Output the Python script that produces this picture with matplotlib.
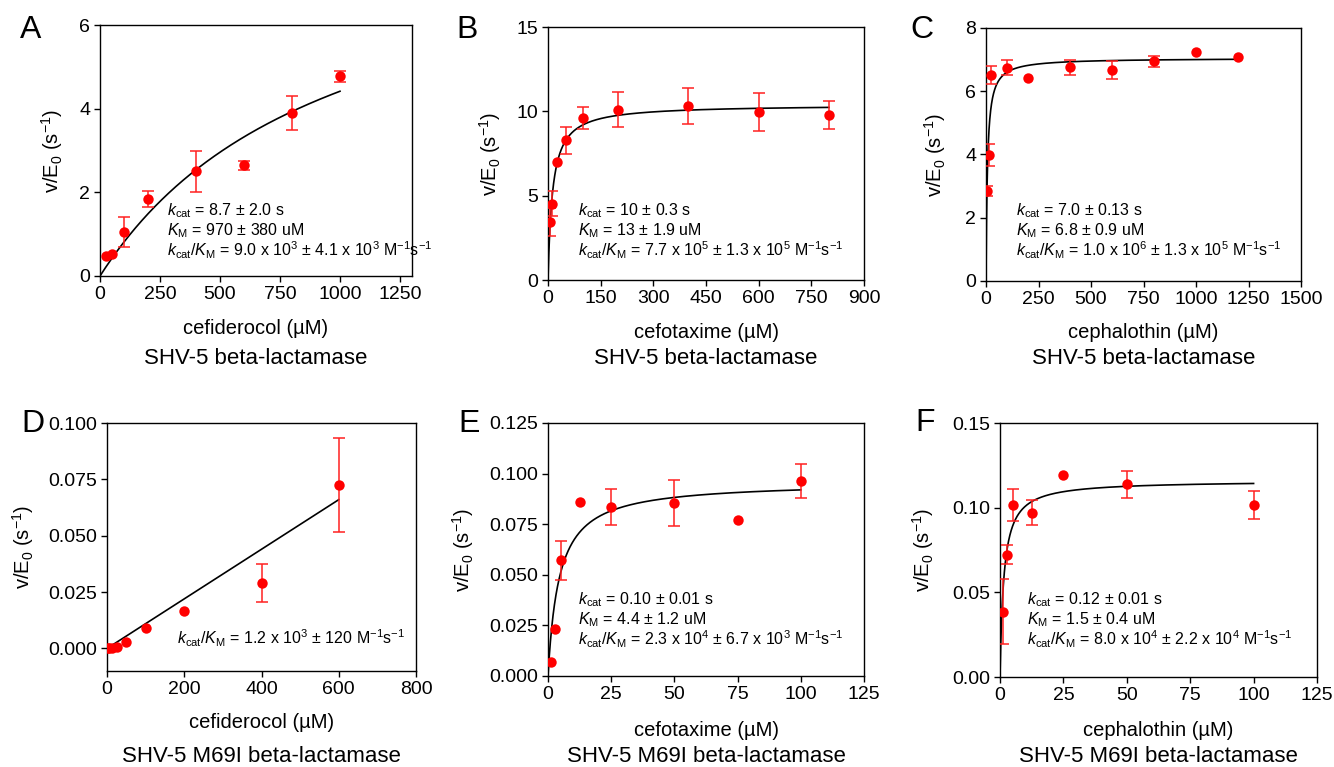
import numpy as np
import matplotlib.pyplot as plt

plt.rcParams['font.family'] = ['Liberation Sans', 'DejaVu Sans']
plt.rcParams['mathtext.fontset'] = 'custom'
plt.rcParams['mathtext.rm'] = 'Liberation Sans'
plt.rcParams['mathtext.it'] = 'Liberation Sans:italic'
plt.rcParams['mathtext.bf'] = 'Liberation Sans:bold'

W, H = 1334, 767

# ---- data ----
a_x = [25, 50, 100, 200, 400, 600, 800, 1000]
a_y = [0.47, 0.52, 1.05, 1.84, 2.50, 2.65, 3.90, 4.77]
a_err = [0.0, 0.0, 0.35, 0.20, 0.50, 0.11, 0.40, 0.14]

b_x = [5, 12.5, 25, 50, 100, 200, 400, 600, 800]
b_y = [3.43, 4.52, 6.99, 8.29, 9.61, 10.1, 10.32, 9.95, 9.77]
b_err = [0.85, 0.75, 0.0, 0.80, 0.67, 1.05, 1.08, 1.13, 0.84]

c_x = [5, 12.5, 25, 100, 200, 400, 600, 800, 1000, 1200]
c_y = [2.84, 3.98, 6.51, 6.75, 6.42, 6.76, 6.67, 6.95, 7.25, 7.09]
c_err = [0.16, 0.35, 0.29, 0.24, 0.0, 0.24, 0.28, 0.17, 0.0, 0.0]

d_x = [3.125, 6.25, 12.5, 25, 50, 100, 200, 400, 600]
d_y = [0.0001, 0.0003, 0.0004, 0.0005, 0.0027, 0.0090, 0.0167, 0.0290, 0.0725]
d_err = [0, 0, 0, 0, 0, 0, 0, 0.0083, 0.0209]

e_x = [1.2, 2.6, 5, 12.5, 25, 50, 75, 100]
e_y = [0.0071, 0.0234, 0.0571, 0.0862, 0.0834, 0.0854, 0.0773, 0.0963]
e_err = [0, 0, 0.0098, 0, 0.0088, 0.0113, 0, 0.0086]

f_x = [1.2, 2.6, 5, 12.5, 25, 50, 100]
f_y = [0.0384, 0.0722, 0.1016, 0.0970, 0.1195, 0.1138, 0.1016]
f_err = [0.0192, 0.0055, 0.0094, 0.0075, 0.0, 0.0080, 0.0084]

# fit parameters (Michaelis-Menten: Vmax, Km, max x), linear slope for D
a_fit = (8.7, 970, 1000)
b_fit = (10.4, 13, 800)
c_fit = (7.05, 6.8, 1200)
d_slope = (1.1e-4, 600)
e_fit = (0.096, 4.4, 100)
f_fit = (0.116, 1.5, 100)

subs = ['SHV-5 beta-lactamase'] * 3 + ['SHV-5 M69I beta-lactamase'] * 3
xlabels = ['cefiderocol (µM)', 'cefotaxime (µM)', 'cephalothin (µM)'] * 2

texts = [
    [r'$\mathit{k}_{\mathrm{cat}}$ = 8.7 ± 2.0 s',
     r'$\mathit{K}_{\mathrm{M}}$ = 970 ± 380 uM',
     r'$\mathit{k}_{\mathrm{cat}}/\mathit{K}_{\mathrm{M}}$ = 9.0 x 10$^{3}$ ± 4.1 x 10$^{3}$ M$^{-1}$s$^{-1}$'],
    [r'$\mathit{k}_{\mathrm{cat}}$ = 10 ± 0.3 s',
     r'$\mathit{K}_{\mathrm{M}}$ = 13 ± 1.9 uM',
     r'$\mathit{k}_{\mathrm{cat}}/\mathit{K}_{\mathrm{M}}$ = 7.7 x 10$^{5}$ ± 1.3 x 10$^{5}$ M$^{-1}$s$^{-1}$'],
    [r'$\mathit{k}_{\mathrm{cat}}$ = 7.0 ± 0.13 s',
     r'$\mathit{K}_{\mathrm{M}}$ = 6.8 ± 0.9 uM',
     r'$\mathit{k}_{\mathrm{cat}}/\mathit{K}_{\mathrm{M}}$ = 1.0 x 10$^{6}$ ± 1.3 x 10$^{5}$ M$^{-1}$s$^{-1}$'],
    [r'$\mathit{k}_{\mathrm{cat}}/\mathit{K}_{\mathrm{M}}$ = 1.2 x 10$^{3}$ ± 120 M$^{-1}$s$^{-1}$'],
    [r'$\mathit{k}_{\mathrm{cat}}$ = 0.10 ± 0.01 s',
     r'$\mathit{K}_{\mathrm{M}}$ = 4.4 ± 1.2 uM',
     r'$\mathit{k}_{\mathrm{cat}}/\mathit{K}_{\mathrm{M}}$ = 2.3 x 10$^{4}$ ± 6.7 x 10$^{3}$ M$^{-1}$s$^{-1}$'],
    [r'$\mathit{k}_{\mathrm{cat}}$ = 0.12 ± 0.01 s',
     r'$\mathit{K}_{\mathrm{M}}$ = 1.5 ± 0.4 uM',
     r'$\mathit{k}_{\mathrm{cat}}/\mathit{K}_{\mathrm{M}}$ = 8.0 x 10$^{4}$ ± 2.2 x 10$^{4}$ M$^{-1}$s$^{-1}$'],
]

# layout in pixels: axes box (l, r, t, b), letter pos, ylabel x, xlabel y, subtitle y, text left/top
boxes = [(100, 412, 25, 276), (548, 864, 27, 280), (986, 1301, 28, 281),
         (107, 416, 423, 671), (548, 864, 423, 676), (1000, 1317, 423, 677)]
letters = [('A', 31, 30), ('B', 467, 30), ('C', 922, 30),
           ('D', 33, 424), ('E', 469, 424), ('F', 925, 423)]
ylab_x = [52, 490, 935, 23, 463, 923]
xlab_y = [328, 333, 333, 722, 730, 730]
sub_y = [359, 359, 359, 757, 757, 757]
txt_pos = [(167, 211), (578, 211), (1016, 211), (177, 638), (578, 600), (1027, 600)]

xlims = [(0, 1300), (0, 900), (0, 1500), (0, 800), (0, 125), (0, 125)]
xticks = [np.arange(0, 1300, 250), np.arange(0, 901, 150), np.arange(0, 1501, 250),
          np.arange(0, 801, 200), np.arange(0, 126, 25), np.arange(0, 126, 25)]
ylims = [(0, 6), (0, 15), (0, 8), (-0.01, 0.1), (0, 0.125), (0, 0.15)]
yticks = [[0, 2, 4, 6], [0, 5, 10, 15], [0, 2, 4, 6, 8],
          [0, 0.025, 0.05, 0.075, 0.1], [0, 0.025, 0.05, 0.075, 0.1, 0.125],
          [0, 0.05, 0.1, 0.15]]
yfmt = [None, None, None, '{:.3f}', '{:.3f}', '{:.2f}']

datasets = [(a_x, a_y, a_err), (b_x, b_y, b_err), (c_x, c_y, c_err),
            (d_x, d_y, d_err), (e_x, e_y, e_err), (f_x, f_y, f_err)]
fits = [a_fit, b_fit, c_fit, None, e_fit, f_fit]

fig = plt.figure(figsize=(W / 100, H / 100), dpi=100)


def fx(px):
    return px / W


def fy(py):
    return 1 - py / H


for i in range(6):
    l, r, t, b = boxes[i]
    ax = fig.add_axes([fx(l), fy(b), (r - l) / W, (b - t) / H])
    x, y, err = datasets[i]

    # fit curve
    if fits[i] is not None:
        vmax, km, xmax = fits[i]
        xs = np.linspace(0, xmax, 2000)
        ax.plot(xs, vmax * xs / (km + xs), color='black', lw=1.2, zorder=2)
    else:
        slope, xmax = d_slope
        xs = np.array([0, xmax])
        ax.plot(xs, slope * xs, color='black', lw=1.2, zorder=2)

    err_arr = np.array(err, dtype=float)
    ax.errorbar(x, y, yerr=np.where(err_arr > 0, err_arr, np.nan), fmt='none',
                ecolor='#ff2020', elinewidth=1.1, capsize=4, capthick=1.1, zorder=3)
    ax.plot(x, y, 'o', color='#ff0000', ms=7.5, mec='none', zorder=4)

    ax.set_xlim(*xlims[i])
    ax.set_ylim(*ylims[i])
    ax.set_xticks(xticks[i])
    ax.set_yticks(yticks[i])
    if yfmt[i]:
        ax.set_yticklabels([yfmt[i].format(v) for v in yticks[i]])
    ax.tick_params(direction='out', length=4, width=1, labelsize=14, pad=3)
    for s in ax.spines.values():
        s.set_linewidth(1)

    # labels
    fig.text(fx(ylab_x[i]), fy((t + b) / 2), r'v/E$_0$ (s$^{-1}$)', rotation=90,
             ha='center', va='center', fontsize=14.5)
    fig.text(fx((l + r) / 2), fy(xlab_y[i]), xlabels[i], ha='center', va='center', fontsize=14.5)
    fig.text(fx((l + r) / 2), fy(sub_y[i]), subs[i], ha='center', va='center', fontsize=16)
    let, lx, ly = letters[i]
    fig.text(fx(lx), fy(ly), let, ha='center', va='center', fontsize=23)

    tx, ty = txt_pos[i]
    for j, line in enumerate(texts[i]):
        fig.text(fx(tx), fy(ty + j * 19.5), line, ha='left', va='center', fontsize=11.5)

fig.savefig('out.png', dpi=100)
